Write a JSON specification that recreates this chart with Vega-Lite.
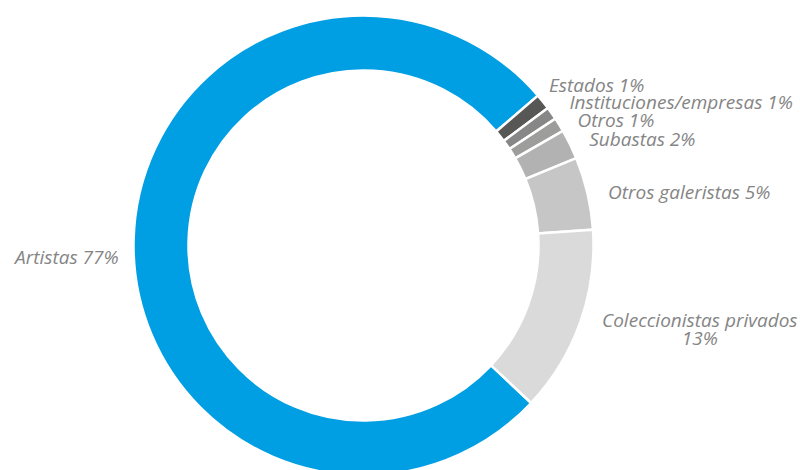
{
  "$schema": "https://vega.github.io/schema/vega-lite/v6.json",
  "autosize": {"type": "none"},
  "width": 727,
  "height": 449,
  "padding": {"left": 0, "top": 21, "right": 73, "bottom": 0},
  "background": "white",
  "config": {"view": {"stroke": null}},
  "data": {
    "values": [
      {"order": 1, "category": "Artistas", "label": "Artistas 77%", "value": 76.7},
      {"order": 2, "category": "Estados", "label": "Estados 1%", "value": 1.1},
      {"order": 3, "category": "Instituciones/empresas", "label": "Instituciones/empresas 1%", "value": 0.9},
      {"order": 4, "category": "Otros", "label": "Otros 1%", "value": 1.0},
      {"order": 5, "category": "Subastas", "label": "Subastas 2%", "value": 2.1},
      {"order": 6, "category": "Otros galeristas", "label": "Otros galeristas 5%", "value": 5.1},
      {"order": 7, "category": "Coleccionistas privados", "label": "Coleccionistas privados\n13%", "value": 13.1}
    ]
  },
  "encoding": {
    "theta": {"field": "value", "type": "quantitative", "stack": true, "scale": {"domain": [0, 100], "range": [2.325, 8.608]}},
    "order": {"field": "order", "type": "quantitative", "sort": "ascending"}
  },
  "layer": [
    {
      "mark": {"type": "arc", "outerRadius": 230, "innerRadius": 175, "stroke": "white", "strokeWidth": 2.5},
      "encoding": {
        "color": {
          "field": "category", "type": "nominal", "legend": null,
          "scale": {
            "domain": ["Artistas", "Estados", "Instituciones/empresas", "Otros", "Subastas", "Otros galeristas", "Coleccionistas privados"],
            "range": ["#009FE3", "#575756", "#878787", "#9d9d9c", "#b2b2b2", "#c6c6c6", "#dadada"]
          }
        }
      }
    },
    {
      "mark": {"type": "text", "radius": 245, "align": "right", "baseline": "middle", "dy": 18, "font": "Open Sans", "fontStyle": "italic", "fontSize": 19, "color": "#858585"},
      "encoding": {"text": {"condition": {"test": "datum.order == 1", "field": "label"}, "value": ""}}
    },
    {
      "mark": {"type": "text", "radius": 248, "align": "left", "baseline": "middle", "dx": -8, "dy": -4, "font": "Open Sans", "fontStyle": "italic", "fontSize": 19, "color": "#858585"},
      "encoding": {"text": {"condition": {"test": "datum.order == 2", "field": "label"}, "value": ""}}
    },
    {
      "mark": {"type": "text", "radius": 248, "align": "left", "baseline": "middle", "dx": 3, "dy": 0, "font": "Open Sans", "fontStyle": "italic", "fontSize": 19, "color": "#858585"},
      "encoding": {"text": {"condition": {"test": "datum.order == 3", "field": "label"}, "value": ""}}
    },
    {
      "mark": {"type": "text", "radius": 248, "align": "left", "baseline": "middle", "dx": 3, "dy": 6, "font": "Open Sans", "fontStyle": "italic", "fontSize": 19, "color": "#858585"},
      "encoding": {"text": {"condition": {"test": "datum.order == 4", "field": "label"}, "value": ""}}
    },
    {
      "mark": {"type": "text", "radius": 248, "align": "left", "baseline": "middle", "dx": 3, "dy": 4, "font": "Open Sans", "fontStyle": "italic", "fontSize": 19, "color": "#858585"},
      "encoding": {"text": {"condition": {"test": "datum.order == 5 || datum.order == 6", "field": "label"}, "value": ""}}
    },
    {
      "mark": {"type": "text", "radius": 357, "align": "center", "baseline": "middle", "dy": -44, "lineBreak": "\n", "lineHeight": 18, "font": "Open Sans", "fontStyle": "italic", "fontSize": 19, "color": "#858585"},
      "encoding": {"text": {"condition": {"test": "datum.order == 7", "field": "label"}, "value": ""}}
    }
  ]
}
